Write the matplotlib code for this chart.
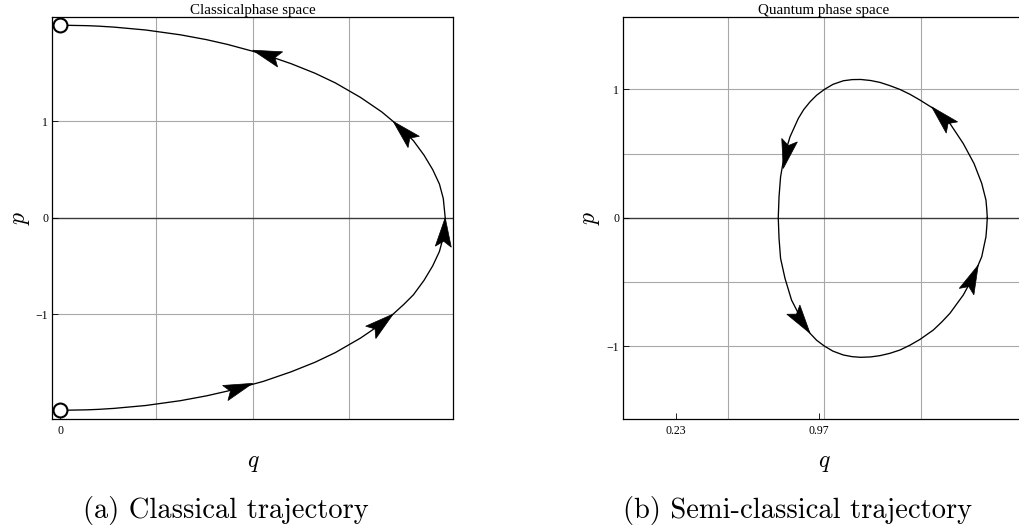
import numpy as np
import matplotlib
matplotlib.use("Agg")
import matplotlib.pyplot as plt
from matplotlib.patches import Polygon
from matplotlib.transforms import IdentityTransform

# ---------------- data ----------------
# (a) classical trajectory: from (0,-2) around to (0,2)
classical_p = [-2.0, -1.995, -1.99, -1.98, -1.95, -1.9, -1.85, -1.8, -1.7, -1.6, -1.5,
               -1.4, -1.25, -1.1, -1.0, -0.9, -0.8, -0.65, -0.5, -0.35, -0.2, -0.1, 0.0,
               0.1, 0.2, 0.35, 0.5, 0.65, 0.8, 0.9, 1.0, 1.1, 1.25, 1.4, 1.5, 1.6, 1.7,
               1.8, 1.85, 1.9, 1.95, 1.98, 1.99, 1.995, 2.0]
classical_q = [0.0, 0.28, 0.40, 0.56, 0.89, 1.25, 1.52, 1.74, 2.11, 2.40, 2.65,
               2.86, 3.12, 3.34, 3.46, 3.57, 3.67, 3.78, 3.87, 3.94, 3.98, 3.99, 4.0,
               3.99, 3.98, 3.94, 3.87, 3.78, 3.67, 3.57, 3.46, 3.34, 3.12, 2.86, 2.65, 2.40, 2.11,
               1.74, 1.52, 1.25, 0.89, 0.56, 0.40, 0.28, 0.0]
classical_ends_q = [0.0, 0.0]
classical_ends_p = [-2.0, 2.0]
# arrow heads: tip and a point behind it on the curve
classical_arrow_tip_q = [2.0, 3.46, 4.0, 3.46, 2.0]
classical_arrow_tip_p = [-1.72, -1.0, 0.0, 1.0, 1.74]
classical_arrow_back_q = [1.745, 3.24, 3.98, 3.66, 2.27]
classical_arrow_back_p = [-1.81, -1.18, -0.30, 0.80, 1.65]

# (b) semi-classical trajectory (closed loop, counter-clockwise)
quantum_q = [1.846, 1.843, 1.839, 1.817, 1.777, 1.721, 1.652, 1.61, 1.566, 1.497, 1.445,
             1.393, 1.34, 1.289, 1.24, 1.189, 1.145, 1.099, 1.045, 1.0, 0.96, 0.926,
             0.893, 0.865, 0.822, 0.791, 0.773, 0.765, 0.761, 0.765, 0.773,
             0.796, 0.830, 0.874, 0.898, 0.926, 0.96, 1.0, 1.045, 1.099, 1.145, 1.189,
             1.24, 1.289, 1.34, 1.393, 1.445, 1.497, 1.566, 1.61,
             1.652, 1.721, 1.773, 1.817, 1.839, 1.843, 1.846]
quantum_p = [0.0, 0.07, 0.138, 0.268, 0.423, 0.579, 0.735, 0.795, 0.852, 0.917, 0.962,
             1.0, 1.03, 1.055, 1.07, 1.078, 1.077, 1.068, 1.04, 1.0, 0.955, 0.904,
             0.843, 0.774, 0.631, 0.475, 0.319, 0.164, 0.0, -0.161, -0.317,
             -0.473, -0.642, -0.771, -0.838, -0.901, -0.955, -1.0, -1.04, -1.07, -1.083, -1.088,
             -1.085, -1.075, -1.057, -1.031, -0.993, -0.948, -0.875, -0.812,
             -0.745, -0.603, -0.46, -0.304, -0.148, -0.074, 0.0]
quantum_arrow_tip_q = [1.557, 0.787, 0.926, 1.799]
quantum_arrow_tip_p = [0.865, 0.384, -0.901, -0.369]
quantum_arrow_back_q = [1.659, 0.817, 0.848, 1.735]
quantum_arrow_back_p = [0.709, 0.587, -0.735, -0.587]

# ticks / grid
left_xticks = [0]
left_yticks = [-1, 0, 1]
left_grid_q = [1, 2, 3]
left_grid_p = [-1, 1]
right_xticks = [0.23, 0.97]
right_yticks = [-1, 0, 1]
right_grid_q = [0.5, 1.0, 1.5]
right_grid_p = [-1, -0.5, 0.5, 1]

titles = ["Classicalphase space", "Quantum phase space"]
captions = ["(a) Classical trajectory", "(b) Semi-classical trajectory"]

# ---------------- styling ----------------
plt.rcParams["font.family"] = ["Liberation Serif", "DejaVu Serif"]
plt.rcParams["mathtext.fontset"] = "cm"
plt.rcParams["axes.unicode_minus"] = True

W, H = 1020, 527
fig = plt.figure(figsize=(W / 100, H / 100), dpi=100)

GRID_C = "#a8a8a8"
ZERO_C = "#3a3a3a"


def px_axes(x0, top, w, h):
    return [x0 / W, (H - top - h) / H, w / W, h / H]


axL = fig.add_axes(px_axes(52.3, 17.0, 401.0, 401.5))
axR = fig.add_axes(px_axes(623.3, 17.0, 401.0, 401.5))

axL.set_xlim(-0.080, 4.084)
axL.set_ylim(-2.085, 2.085)
axR.set_xlim(-0.0433, 2.038)
axR.set_ylim(-1.565, 1.565)


def style(ax, xt, yt, gq, gp, title):
    for g in gq:
        ax.axvline(g, color=GRID_C, lw=0.8, zorder=0)
    for g in gp:
        ax.axhline(g, color=GRID_C, lw=0.8, zorder=0)
    ax.axhline(0, color=ZERO_C, lw=1.0, zorder=0.5)
    ax.set_xticks(xt)
    ax.set_xticklabels([str(v) for v in xt])
    ax.set_yticks(yt)
    ax.set_yticklabels([("\u2212" + str(abs(v))) if v < 0 else str(v) for v in yt])
    ax.tick_params(direction="in", length=4, width=0.6, labelsize=8.5, colors="black",
                   top=False, right=False)
    ax.tick_params(axis="x", pad=5)
    ax.tick_params(axis="y", pad=3)
    for s in ax.spines.values():
        s.set_linewidth(0.9)
        s.set_color("black")
    ax.set_title(title, fontsize=10.8, pad=2.2)


style(axL, left_xticks, left_yticks, left_grid_q, left_grid_p, titles[0])
style(axR, right_xticks, right_yticks, right_grid_q, right_grid_p, titles[1])

axL.plot(classical_q, classical_p, color="black", lw=0.95, zorder=2,
         solid_joinstyle="round")
axL.plot(classical_ends_q, classical_ends_p, ls="none", marker="o", ms=10, mew=1.5,
         mfc="white", mec="black", zorder=4, clip_on=False)
axR.plot(quantum_q, quantum_p, color="black", lw=0.95, zorder=2,
         solid_joinstyle="round")

# arrow heads (notched triangles, size in pixels)
L_A, W_A, NOTCH = 29.0, 16.0, 5.5


def arrows(ax, tq, tp, bq, bp):
    tips = ax.transData.transform(np.column_stack([tq, tp]))
    backs = ax.transData.transform(np.column_stack([bq, bp]))
    for t, b in zip(tips, backs):
        d = t - b
        d = d / np.hypot(*d)
        n = np.array([-d[1], d[0]])
        verts = [t,
                 t - L_A * d + 0.5 * W_A * n,
                 t - (L_A - NOTCH) * d,
                 t - L_A * d - 0.5 * W_A * n]
        poly = Polygon(verts, closed=True, facecolor="black", edgecolor="black",
                       lw=0.5, transform=IdentityTransform(), zorder=3)
        ax.add_artist(poly)


arrows(axL, classical_arrow_tip_q, classical_arrow_tip_p,
       classical_arrow_back_q, classical_arrow_back_p)
arrows(axR, quantum_arrow_tip_q, quantum_arrow_tip_p,
       quantum_arrow_back_q, quantum_arrow_back_p)

# axis labels
for xc in (22.0, 592.0):
    fig.text(xc / W, (H - 218) / H, r"$p$", fontsize=17, rotation=90,
             ha="center", va="center")
for xc in (253.0, 824.0):
    fig.text(xc / W, (H - 467.3) / H, r"$q$", fontsize=17, ha="center", va="baseline")

# captions
for xc, cap in zip((225.8, 797.5), captions):
    fig.text(xc / W, (H - 518.3) / H, cap, fontsize=20.5, family="cmr10",
             ha="center", va="baseline")

fig.savefig("out.png", dpi=100)
